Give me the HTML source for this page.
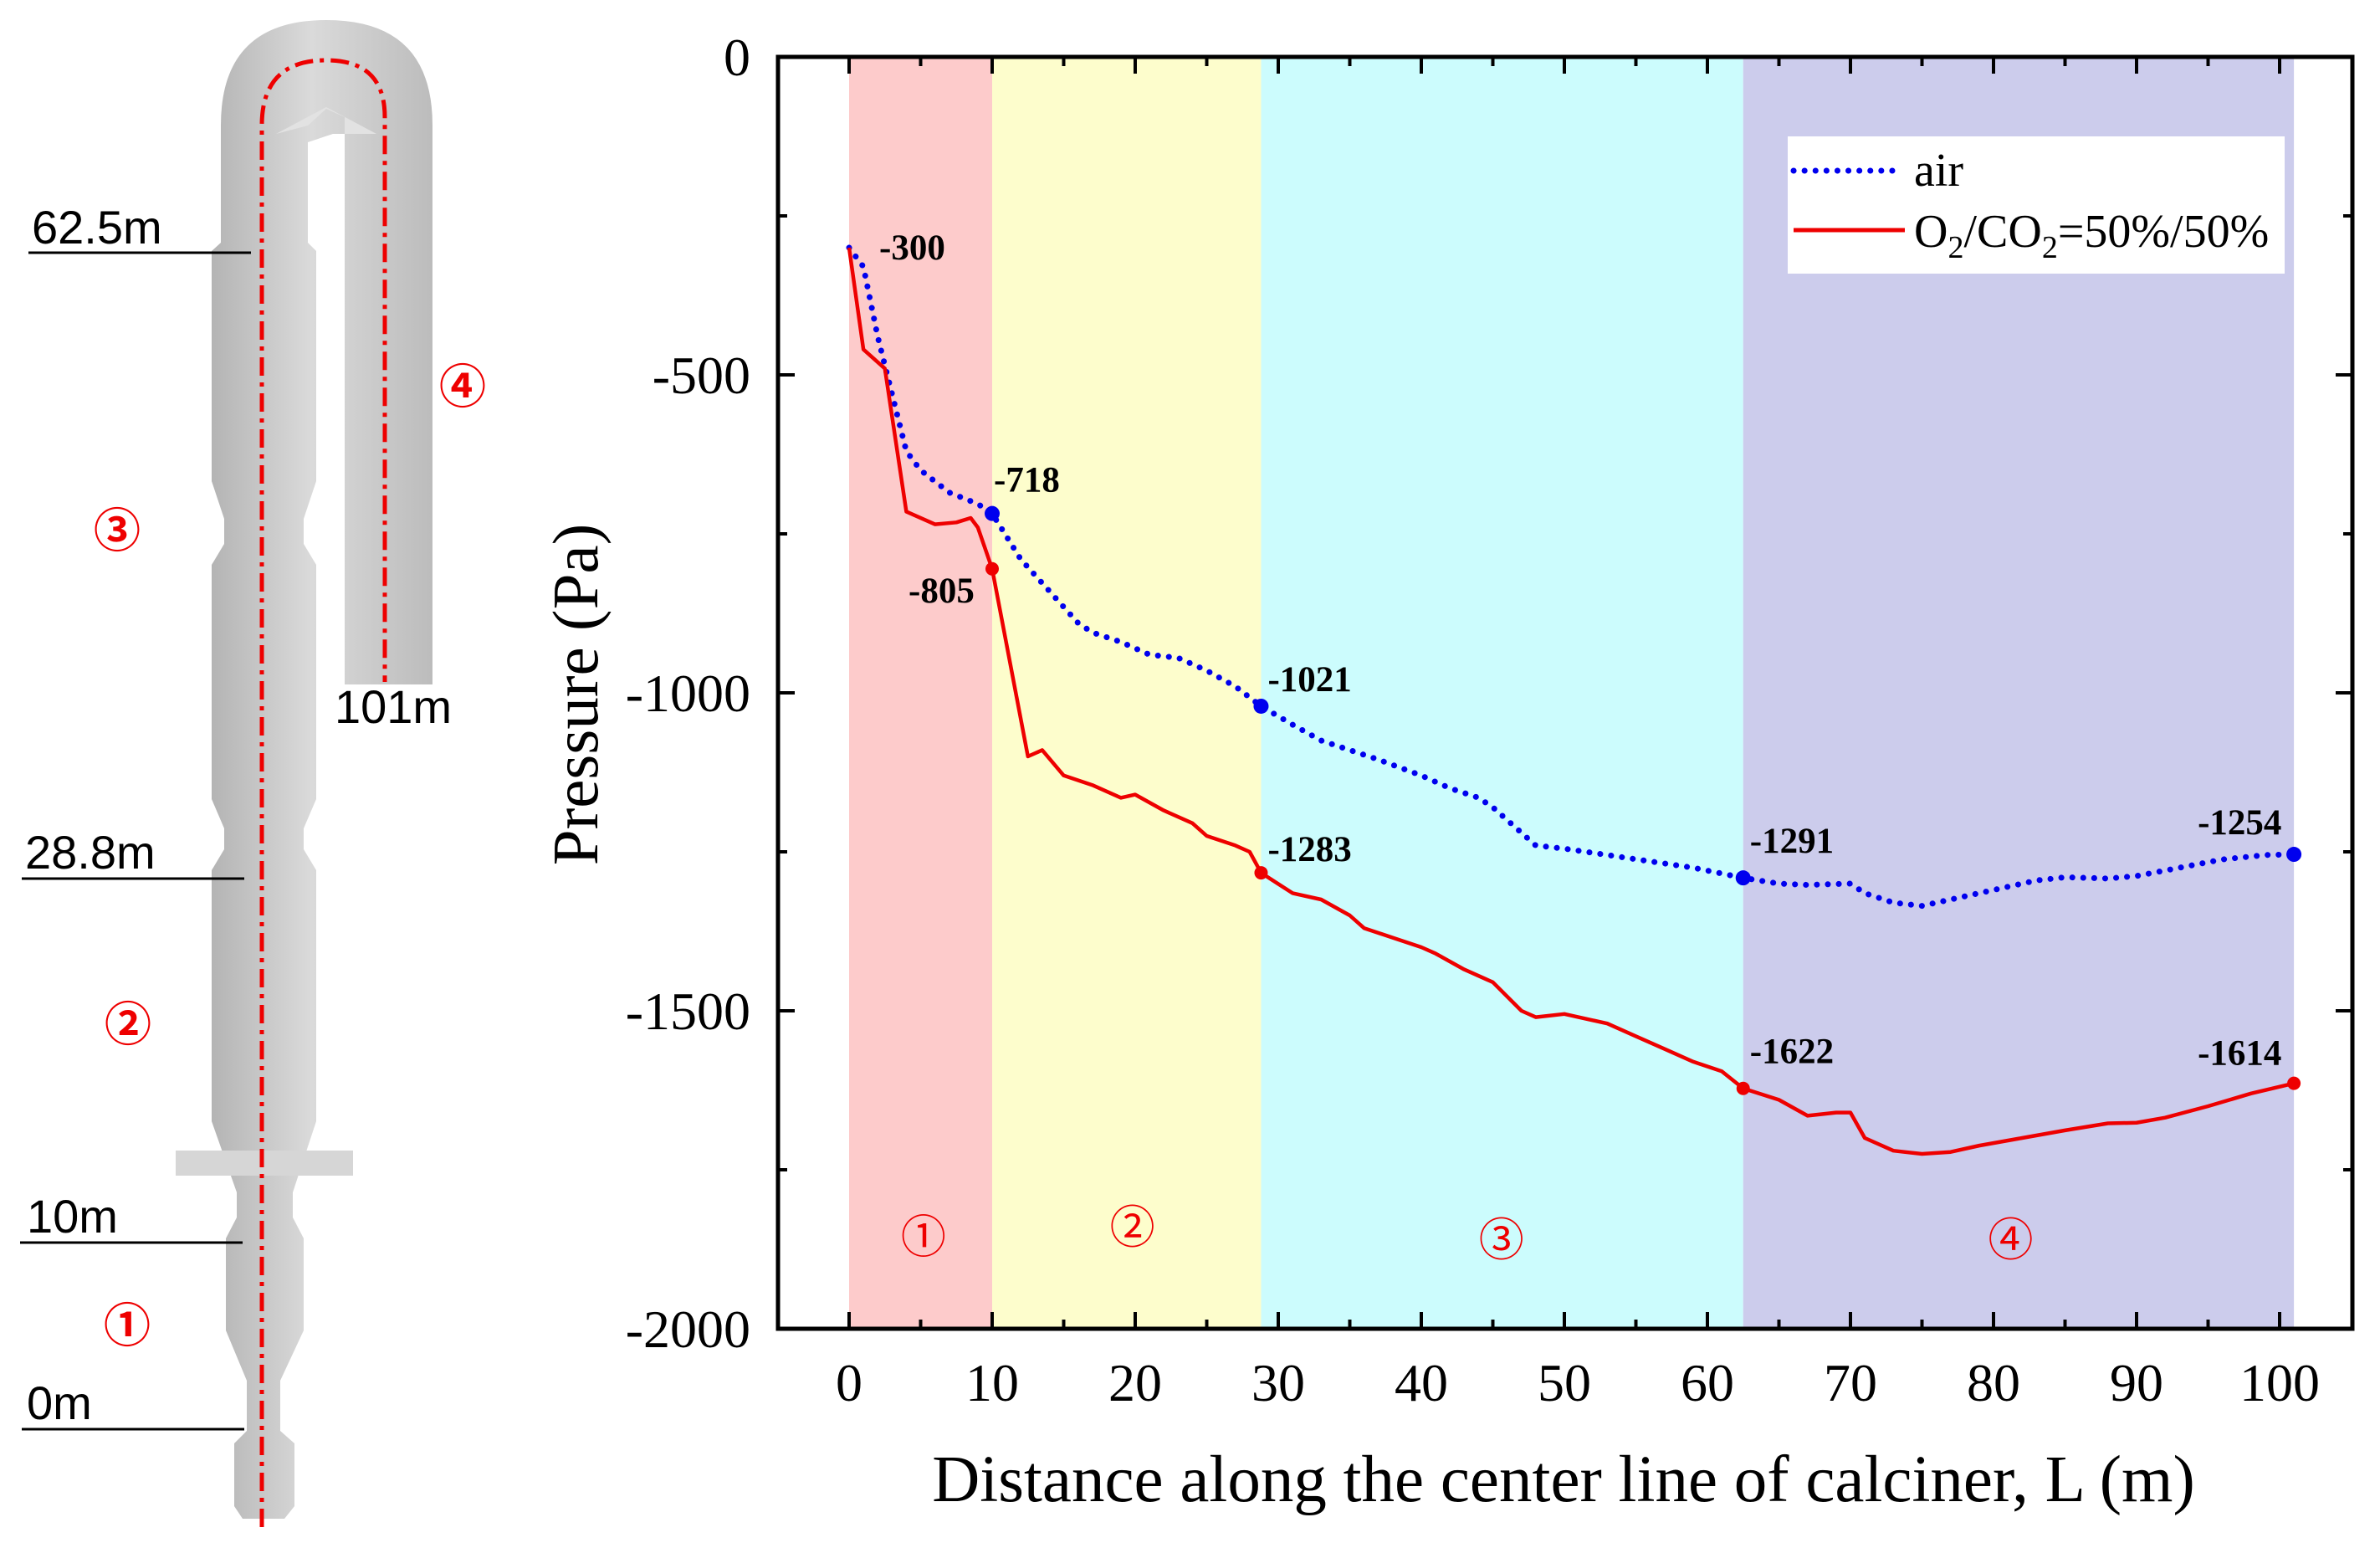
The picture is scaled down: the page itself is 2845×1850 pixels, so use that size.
<!DOCTYPE html>
<html><head><meta charset="utf-8"><style>
html,body{margin:0;padding:0;background:#fff;}
svg{display:block;}
text{font-family:"Liberation Serif",serif;}
</style></head><body>
<svg id="chart" width="2845" height="1850" viewBox="0 0 2845 1850" xmlns="http://www.w3.org/2000/svg">
<defs>
<linearGradient id="pipe" x1="0" x2="1" y1="0" y2="0">
<stop offset="0" stop-color="#b4b4b4"/><stop offset="0.45" stop-color="#dadada"/><stop offset="1" stop-color="#bcbcbc"/>
</linearGradient>
</defs>
<g>
<path fill="url(#pipe)" d="M264,150 Q264,24 390,24 Q517,24 517,150 L517,818 L412,818 L412,160 L398,160 L368,170 L368,290 L378,300 L378,575 L363,620 L363,650 L378,675 L378,955 L363,990 L363,1015 L378,1040 L378,1340 L350,1425 L350,1455 L363,1480 L363,1590 L335,1650 L335,1710 L352,1725 L352,1800 L340,1815 L290,1815 L280,1800 L280,1725 L295,1710 L295,1650 L270,1590 L270,1480 L283,1455 L283,1425 L253,1340 L253,1040 L268,1015 L268,990 L253,955 L253,675 L268,650 L268,620 L253,575 L253,300 L264,290 Z"/>
<path fill="#e2e2e2" d="M330,160 L390,128 L450,160 L412,160 L412,140 L390,130 L368,150 Z"/>
<rect x="210" y="1375" width="212" height="30" fill="#d6d6d6"/>
<path fill="none" stroke="#e00" stroke-width="5" stroke-dasharray="22,8,5,8" d="M313,1825 L313,150 Q313,72 390,72 Q460,72 460,140 L460,815"/>
<g stroke="#000" stroke-width="3">
<line x1="34" y1="302" x2="300" y2="302"/><line x1="26" y1="1050" x2="292" y2="1050"/>
<line x1="24" y1="1485" x2="290" y2="1485"/><line x1="26" y1="1708" x2="292" y2="1708"/>
</g>
<g font-size="56" fill="#000">
<text x="38" y="291" style="font-family:'Liberation Sans',sans-serif">62.5m</text>
<text x="30" y="1038" style="font-family:'Liberation Sans',sans-serif">28.8m</text>
<text x="32" y="1473" style="font-family:'Liberation Sans',sans-serif">10m</text>
<text x="32" y="1696" style="font-family:'Liberation Sans',sans-serif">0m</text>
<text x="400" y="864" style="font-family:'Liberation Sans',sans-serif">101m</text>
</g>
<g fill="#e00" font-size="56" text-anchor="middle" font-weight="bold">
<text x="553" y="482" style="font-family:'Liberation Sans','Noto Sans CJK JP',sans-serif">④</text>
<text x="140" y="654" style="font-family:'Liberation Sans','Noto Sans CJK JP',sans-serif">③</text>
<text x="153" y="1244" style="font-family:'Liberation Sans','Noto Sans CJK JP',sans-serif">②</text>
<text x="152" y="1604" style="font-family:'Liberation Sans','Noto Sans CJK JP',sans-serif">①</text>
</g>
</g>
<g id="plot"></g>
</svg>
<script>
const xTicks = [0,10,20,30,40,50,60,70,80,90,100];
const yTicks = [0,-500,-1000,-1500,-2000];
const zoneStarts = [0,10,28.8,62.5];
const zoneEnds = [10,28.8,62.5,101];
const zoneColors = ['#fdcbcb','#fdfdcc','#ccfcfd','#ccccec'];
const zoneLabels = ['①','②','③','④'];
const zoneLabelX = [5.2,19.8,45.6,81.2];
const zoneLabelY = [-1880,-1865,-1885,-1885];
const redX = [0,1,2.5,4,6,7.5,8.5,9,10,12.5,13.5,15,17,19,20,22,24,25,27,28,28.8,31,33,35,36,38,40,41,43,45,47,48,50,52,53,55,57,59,61,62.5,65,67,69,70,71,73,75,77,79,82,85,88,90,92,95,98,101];
const redY = [-300,-460,-490,-715,-735,-732,-725,-740,-805,-1100,-1090,-1130,-1145,-1165,-1160,-1185,-1205,-1225,-1240,-1250,-1283,-1315,-1325,-1350,-1370,-1385,-1400,-1410,-1435,-1455,-1500,-1510,-1505,-1515,-1520,-1540,-1560,-1580,-1595,-1622,-1640,-1665,-1660,-1660,-1700,-1720,-1725,-1722,-1712,-1700,-1688,-1677,-1676,-1668,-1650,-1630,-1614];
const blueX = [0,1,2,3,4,5,7,9,10,12,14,16,17,19,21,23,25,27,28.8,31,33,35,37,40,42,44,45,47,48,50,53,56,59,62.5,65,67,70,71,73,75,77,80,83,85,88,90,93,96,99,101];
const blueY = [-300,-330,-440,-530,-620,-650,-685,-703,-718,-790,-840,-890,-905,-920,-940,-945,-965,-990,-1021,-1050,-1075,-1090,-1105,-1130,-1150,-1165,-1180,-1220,-1240,-1245,-1255,-1265,-1275,-1291,-1300,-1302,-1300,-1315,-1330,-1335,-1325,-1310,-1295,-1290,-1292,-1288,-1275,-1262,-1255,-1254];
const redMarkX = [10,28.8,62.5,101];
const redMarkY = [-805,-1283,-1622,-1614];
const blueMarkX = [10,28.8,62.5,101];
const blueMarkY = [-718,-1021,-1291,-1254];
const annText = ['-300','-718','-805','-1021','-1283','-1291','-1622','-1254','-1614'];
const annX = [0,10,10,28.8,28.8,62.5,62.5,101,101];
const annY = [-300,-718,-805,-1021,-1283,-1291,-1622,-1254,-1614];
const annDX = [36,2,-100,8,8,8,8,-115,-115];
const annDY = [14,-26,40,-18,-14,-30,-30,-24,-22];

const L=930,R=2812,T=68,B=1588;
const X0=1015,PXM=17.1;
const sx=v=>X0+v*PXM;
const sy=v=>T+(0-v)/2000*(B-T);
const NS='http://www.w3.org/2000/svg';
const g=document.getElementById('plot');
function mk(tag,attrs,parent){const e=document.createElementNS(NS,tag);for(const k in attrs)e.setAttribute(k,attrs[k]);(parent||g).appendChild(e);return e;}

for(let i=0;i<zoneStarts.length;i++){
  const r=mk('rect',{x:sx(zoneStarts[i]),y:T,width:sx(zoneEnds[i])-sx(zoneStarts[i]),height:B-T,fill:zoneColors[i]});
  
  
  const t=mk('text',{x:sx(zoneLabelX[i]),y:sy(zoneLabelY[i]),'font-size':54,fill:'#e00','text-anchor':'middle',style:"font-family:'Liberation Sans','Noto Sans CJK JP',sans-serif"});
  t.textContent=zoneLabels[i];
  
  
}
for(const v of xTicks){
  const l1=mk('line',{x1:sx(v),x2:sx(v),y1:B,y2:B-20,stroke:'#000','stroke-width':4});
  
  
  mk('line',{x1:sx(v),x2:sx(v),y1:T,y2:T+20,stroke:'#000','stroke-width':4});
  if(v<100){mk('line',{x1:sx(v+5),x2:sx(v+5),y1:B,y2:B-11,stroke:'#000','stroke-width':4});mk('line',{x1:sx(v+5),x2:sx(v+5),y1:T,y2:T+11,stroke:'#000','stroke-width':4});}
  const t=mk('text',{x:sx(v),y:1674,'font-size':64,'text-anchor':'middle',fill:'#000'});
  t.textContent=v;
  
  
}
for(const v of yTicks){
  const l=mk('line',{x1:L,x2:L+20,y1:sy(v),y2:sy(v),stroke:'#000','stroke-width':4});
  
  
  mk('line',{x1:R,x2:R-20,y1:sy(v),y2:sy(v),stroke:'#000','stroke-width':4});
  if(v>-2000){mk('line',{x1:L,x2:L+11,y1:sy(v-250),y2:sy(v-250),stroke:'#000','stroke-width':4});mk('line',{x1:R,x2:R-11,y1:sy(v-250),y2:sy(v-250),stroke:'#000','stroke-width':4});}
  const t=mk('text',{x:897,y:sy(v)+22,'font-size':64,'text-anchor':'end',fill:'#000'});
  t.textContent=v;
  
  
}
const pb=mk('polyline',{points:blueX.map((x,i)=>sx(x)+','+sy(blueY[i])).join(' '),fill:'none',stroke:'#0000ee','stroke-width':7,'stroke-dasharray':'0.1,13','stroke-linecap':'round'});


const pr=mk('polyline',{points:redX.map((x,i)=>sx(x)+','+sy(redY[i])).join(' '),fill:'none',stroke:'#ee0000','stroke-width':4.5,'stroke-linejoin':'round'});


for(let i=0;i<blueMarkX.length;i++){
  const c=mk('circle',{cx:sx(blueMarkX[i]),cy:sy(blueMarkY[i]),r:9,fill:'#0000ee'});
  
  
  const d=mk('circle',{cx:sx(redMarkX[i]),cy:sy(redMarkY[i]),r:8,fill:'#ee0000'});
  
  
}
for(let i=0;i<annText.length;i++){
  const t=mk('text',{x:sx(annX[i])+annDX[i],y:sy(annY[i])+annDY[i],'font-size':43,'font-weight':'bold',fill:'#000'});
  t.textContent=annText[i];
  
  
}
const fr=mk('rect',{x:L,y:T,width:R-L,height:B-T,fill:'none',stroke:'#000','stroke-width':5});


const lg=mk('g',{});


mk('rect',{x:2137,y:163,width:594,height:164,fill:'#fff'},lg);
mk('line',{x1:2144,x2:2270,y1:204,y2:204,stroke:'#0000ee','stroke-width':7,'stroke-dasharray':'0.1,13','stroke-linecap':'round'},lg);
mk('line',{x1:2144,x2:2277,y1:275,y2:275,stroke:'#ee0000','stroke-width':5},lg);
const t1=mk('text',{x:2288,y:222,'font-size':56,fill:'#000'},lg);t1.textContent='air';


const t2=mk('text',{x:2288,y:295,'font-size':56,fill:'#000'},lg);
t2.innerHTML='O<tspan font-size="38" dy="13">2</tspan><tspan dy="-13">/CO</tspan><tspan font-size="38" dy="13">2</tspan><tspan dy="-13">=50%/50%</tspan>';


const xt=mk('text',{x:1869,y:1794,'font-size':79,'text-anchor':'middle',fill:'#000'});
xt.textContent='Distance along the center line of calciner, L (m)';


const yt=mk('text',{x:0,y:0,'font-size':77,'text-anchor':'middle',fill:'#000',transform:'translate(714,830) rotate(-90)'});
yt.textContent='Pressure (Pa)';


</script>
</body></html>
